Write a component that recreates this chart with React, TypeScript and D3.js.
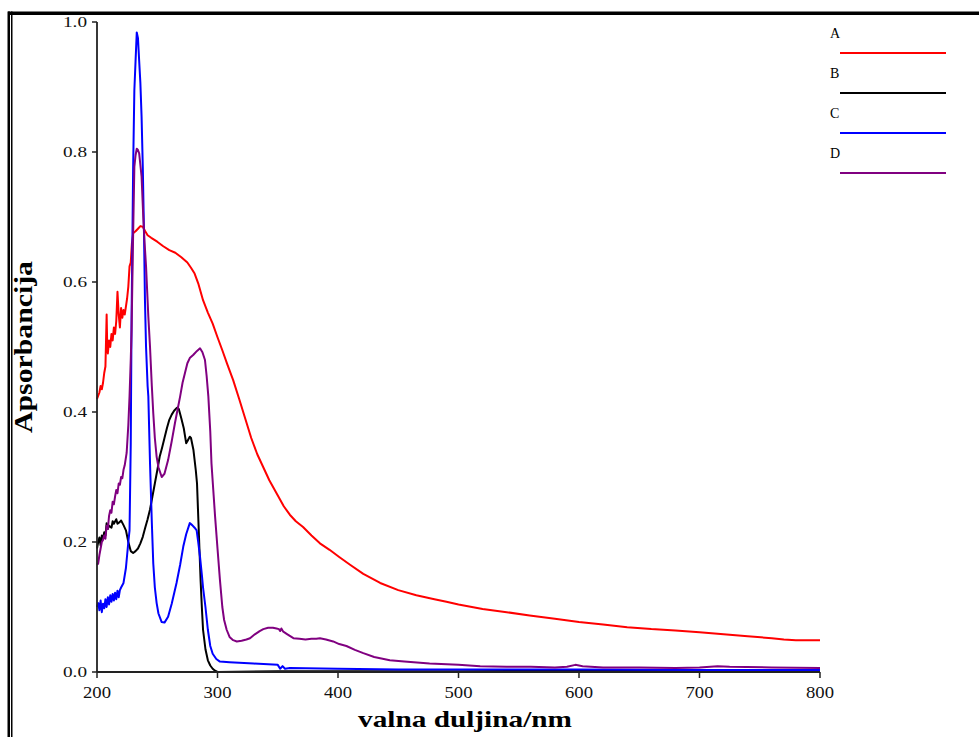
import React from "react";
import * as d3 from "d3";

// ---- data (wavelength nm, absorbance) ----
const seriesNames = ["A", "B", "C", "D"];
const seriesColors = ["#ff0000", "#000000", "#0000ff", "#800080"];

const seriesA: [number, number][] = [
  [200,0.42],[201,0.425],[202,0.43],[203,0.44],[204,0.435],[205,0.445],[206,0.46],[207,0.47],[208,0.55],[208.5,0.5],[209,0.49],[210,0.51],[211,0.5],[212,0.52],[213,0.51],[214,0.53],[215,0.52],[216,0.54],[217,0.585],[218,0.55],[219,0.53],[220,0.56],[221,0.545],[222,0.557],[223,0.55],[224,0.562],[225,0.575],[226,0.593],[227,0.624],[228,0.63],[229,0.66],[230,0.675],[232,0.678],[234,0.682],[236,0.686],[238,0.685],[240,0.678],[242,0.672],[245,0.668],[250,0.662],[255,0.655],[260,0.649],[265,0.645],[270,0.638],[275,0.63],[278,0.622],[281,0.613],[284,0.598],[288,0.572],[292,0.553],[296,0.536],[300,0.515],[304,0.495],[308,0.474],[313,0.449],[318,0.42],[323,0.39],[328,0.36],[333,0.335],[338,0.315],[343,0.295],[349,0.275],[355,0.255],[360,0.242],[365,0.232],[371,0.223],[378,0.21],[385,0.198],[393,0.188],[401,0.177],[410,0.165],[421,0.151],[435,0.137],[450,0.126],[465,0.118],[480,0.112],[490,0.108],[500,0.104],[520,0.097],[540,0.092],[559,0.087],[580,0.082],[600,0.077],[620,0.073],[640,0.069],[660,0.066],[680,0.064],[700,0.061],[720,0.058],[740,0.055],[760,0.052],[770,0.05],[780,0.049],[790,0.049],[800,0.049]
];

const seriesB: [number, number][] = [
  [200,0.19],[201,0.2],[202,0.207],[203,0.195],[204,0.21],[205,0.205],[206,0.215],[207,0.21],[208,0.229],[209,0.22],[210,0.225],[212,0.222],[213,0.232],[214,0.228],[216,0.235],[217,0.228],[219,0.231],[220,0.233],[222,0.226],[224,0.218],[226,0.2],[228,0.186],[230,0.183],[232,0.186],[234,0.19],[236,0.198],[238,0.208],[240,0.222],[242,0.235],[244,0.25],[246,0.27],[248,0.29],[250,0.31],[252,0.331],[254,0.345],[256,0.36],[258,0.375],[260,0.388],[262,0.396],[264,0.402],[266,0.406],[267,0.407],[268,0.404],[270,0.39],[272,0.375],[274,0.352],[275,0.355],[277,0.362],[278,0.36],[280,0.342],[282,0.31],[283,0.29],[284,0.24],[285,0.19],[286,0.14],[287,0.1],[288,0.065],[290,0.035],[292,0.018],[294,0.01],[296,0.005],[298,0.002],[300,0.0],[350,0.001],[400,0.001],[500,0.001],[600,0.002],[700,0.001],[800,0.001]
];

const seriesC: [number, number][] = [
  [200,0.1],[201,0.106],[202,0.095],[203,0.11],[204,0.092],[205,0.105],[206,0.098],[207,0.112],[208,0.1],[209,0.115],[210,0.104],[211,0.118],[212,0.108],[213,0.12],[214,0.11],[215,0.122],[216,0.112],[217,0.125],[218,0.115],[219,0.126],[220,0.13],[222,0.137],[224,0.16],[225,0.18],[226,0.2],[227,0.218],[228,0.35],[228.7,0.549],[229.3,0.65],[230,0.777],[231,0.895],[232,0.94],[233,0.984],[234,0.975],[235,0.94],[236,0.906],[237,0.854],[238,0.777],[239,0.675],[239.8,0.572],[240.7,0.5],[242,0.44],[242.6,0.424],[244,0.321],[245.5,0.23],[246.7,0.167],[248,0.13],[249.5,0.106],[251,0.09],[253.6,0.077],[256,0.076],[259,0.085],[262,0.105],[266,0.137],[269,0.165],[271.6,0.193],[274,0.212],[277,0.229],[279,0.226],[281,0.222],[282.7,0.218],[284,0.2],[285.5,0.177],[287,0.15],[288,0.13],[290,0.1],[292,0.065],[294,0.04],[296,0.028],[299,0.02],[302,0.016],[310,0.015],[330,0.013],[350,0.011],[352,0.005],[354,0.009],[356,0.005],[360,0.006],[400,0.005],[450,0.004],[500,0.004],[600,0.004],[700,0.003],[800,0.003]
];

const seriesD: [number, number][] = [
  [200,0.165],[201,0.167],[202,0.18],[203,0.19],[204,0.2],[205,0.203],[206,0.21],[207,0.205],[208,0.225],[209,0.22],[210,0.24],[211,0.249],[212,0.245],[213,0.262],[214,0.258],[215,0.27],[216,0.28],[217,0.275],[218,0.29],[219,0.288],[220,0.3],[221,0.298],[222,0.311],[223,0.318],[224.6,0.337],[226,0.38],[227,0.424],[228,0.48],[228.7,0.526],[229.5,0.62],[230,0.675],[231,0.777],[232,0.795],[233,0.805],[234,0.803],[235,0.798],[236,0.78],[237,0.762],[238.4,0.7],[239.5,0.66],[240.7,0.624],[242.6,0.547],[244,0.5],[245.5,0.44],[246.7,0.398],[248,0.36],[249.5,0.331],[251,0.315],[253.7,0.3],[256,0.305],[259,0.326],[262,0.355],[264.7,0.383],[267,0.405],[269,0.424],[271,0.445],[273,0.46],[275,0.475],[277,0.483],[280,0.488],[283,0.494],[285.5,0.498],[287.5,0.492],[289.6,0.48],[291,0.455],[292.4,0.424],[294,0.37],[295,0.321],[296.5,0.28],[298,0.239],[300,0.19],[302,0.142],[304,0.1],[305.5,0.08],[307.6,0.065],[310,0.054],[313,0.049],[316,0.047],[320,0.048],[324,0.05],[327,0.052],[331,0.058],[335,0.063],[338,0.066],[342,0.068],[346,0.068],[349,0.067],[351,0.066],[352,0.063],[353,0.067],[354.6,0.062],[358,0.058],[363,0.052],[368,0.051],[373,0.05],[378,0.051],[382,0.051],[385,0.052],[390,0.05],[396,0.047],[401,0.043],[407,0.04],[414,0.034],[421,0.029],[430,0.023],[443,0.018],[455,0.016],[476,0.013],[500,0.011],[518,0.009],[540,0.008],[560,0.008],[580,0.007],[590,0.008],[597,0.011],[603,0.009],[620,0.007],[650,0.007],[680,0.006],[700,0.007],[715,0.009],[725,0.008],[760,0.007],[800,0.006]
];

const allSeries = [seriesA, seriesB, seriesC, seriesD];
const xTicks = [200, 300, 400, 500, 600, 700, 800];
const yTicks = [0.0, 0.2, 0.4, 0.6, 0.8, 1.0];
const xTitle = "valna duljina/nm";
const yTitle = "Apsorbancija";

export default function App() {
  const W = 979, H = 737;
  const x = d3.scaleLinear().domain([200, 800]).range([97, 820]);
  const y = d3.scaleLinear().domain([0, 1]).range([672, 22]);
  const line = d3.line<[number, number]>().x(d => x(d[0])).y(d => y(d[1]));
  const serif = "'Liberation Serif', 'Times New Roman', serif";
  const axisColor = "#222";

  return (
    <svg width={W} height={H} style={{ position: "absolute", left: 0, top: 0, background: "#fff" }}>
      <rect x={0} y={0} width={W} height={H} fill="#fff" />
      {/* frame */}
      <rect x={8} y={11.5} width={W - 8} height={3.5} fill="#000" />
      <rect x={7.5} y={11.5} width={2.5} height={H - 11.5} fill="#000" />
      <rect x={11} y={11.5} width={1.5} height={H - 11.5} fill="#000" />

      {/* series */}
      {allSeries.map((s, i) => (
        <path key={i} d={line(s) || ""} fill="none" stroke={seriesColors[i]} strokeWidth={2} strokeLinejoin="round" />
      ))}

      {/* axes */}
      <line x1={x(200)} x2={x(200)} y1={y(1)} y2={y(0)} stroke={axisColor} strokeWidth={1.8} />
      <line x1={x(200)} x2={x(800)} y1={y(0)} y2={y(0)} stroke={axisColor} strokeWidth={1.8} />
      {yTicks.map(t => (
        <g key={"y" + t}>
          <line x1={x(200) - 5} x2={x(200)} y1={y(t)} y2={y(t)} stroke={axisColor} strokeWidth={1.5} />
          <text x={87} y={y(t) + 5} textAnchor="end" fontFamily={serif} fontSize={15}
            textLength={24} lengthAdjust="spacingAndGlyphs" fill="#111">{t.toFixed(1)}</text>
        </g>
      ))}
      {xTicks.map(t => (
        <g key={"x" + t}>
          <line x1={x(t)} x2={x(t)} y1={y(0)} y2={y(0) + 6} stroke={axisColor} strokeWidth={1.5} />
          <text x={x(t)} y={698} textAnchor="middle" fontFamily={serif} fontSize={16.5}
            textLength={28} lengthAdjust="spacingAndGlyphs" fill="#111">{t}</text>
        </g>
      ))}

      {/* axis titles */}
      <text x={465} y={727} textAnchor="middle" fontFamily={serif} fontWeight="bold" fontSize={23}
        textLength={214} lengthAdjust="spacingAndGlyphs" fill="#000">{xTitle}</text>
      <text transform={`translate(32,347) rotate(-90)`} textAnchor="middle" fontFamily={serif} fontWeight="bold" fontSize={25}
        textLength={172} lengthAdjust="spacingAndGlyphs" fill="#000">{yTitle}</text>

      {/* legend */}
      {seriesNames.map((n, i) => (
        <g key={n}>
          <text x={830} y={38 + i * 40} fontFamily={serif} fontSize={14} fill="#000">{n}</text>
          <line x1={840} x2={946} y1={53 + i * 40} y2={53 + i * 40} stroke={seriesColors[i]} strokeWidth={2} />
        </g>
      ))}
    </svg>
  );
}
